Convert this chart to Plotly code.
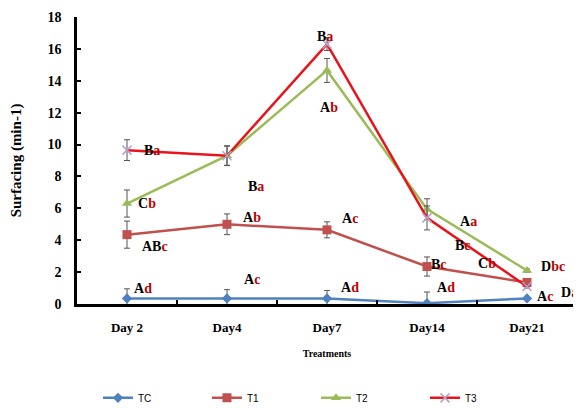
import plotly.graph_objects as go

days = ["Day 2", "Day4", "Day7", "Day14", "Day21"]
tc = [0.35, 0.35, 0.35, 0.05, 0.35]
tc_err = [0.6, 0.55, 0.5, 0.7, 0.05]
t1 = [4.35, 5.0, 4.65, 2.35, 1.35]
t1_err = [0.85, 0.65, 0.5, 0.6, 0.1]
t2 = [6.3, 9.3, 14.65, 5.95, 2.1]
t2_err = [0.85, 0.6, 0.75, 0.65, 0.1]
t3 = [9.65, 9.3, 16.3, 5.4, 1.1]
t3_err = [0.65, 0.62, 0.4, 0.75, 0.1]

# significance labels: (x position in category units, y value, capital, lowercase)
lab_x = [0.25, 0.2, 0.28, 0.16, 1.29, 1.25, 1.25, 1.98, 2.02, 2.23, 2.23, 3.41, 3.36, 3.12, 3.6, 3.19, 4.26, 4.42, 4.18]
lab_y = [9.65, 6.3, 3.6, 1.0, 7.4, 5.4, 1.55, 16.8, 12.3, 5.35, 1.06, 5.2, 3.7, 2.45, 2.55, 1.06, 2.35, 0.75, 0.45]
lab_cap = ["B", "C", "AB", "A", "B", "A", "A", "B", "A", "A", "A", "A", "B", "B", "C", "A", "D", "D", "A"]
lab_low = ["a", "b", "c", "d", "a", "b", "c", "a", "b", "c", "d", "a", "c", "c", "b", "d", "bc", "a", "c"]

fig = go.Figure()

def add(name, vals, errs, color, mcolor, symbol, msize):
    fig.add_trace(go.Scatter(
        x=days, y=vals, name=name, mode="lines+markers",
        line=dict(color=color, width=2.5),
        marker=dict(symbol=symbol, size=msize, color=mcolor,
                    line=dict(width=1.5 if symbol == "x-thin" else 0, color=mcolor)),
        error_y=dict(type="data", array=errs, visible=True, color="#555555",
                     thickness=1, width=3),
    ))

add("TC", tc, tc_err, "#4F81BD", "#4F81BD", "diamond", 8)
add("T1", t1, t1_err, "#C0504D", "#C0504D", "square", 9)
add("T2", t2, t2_err, "#9BBB59", "#9BBB59", "triangle-up", 9)
add("T3", t3, t3_err, "#E8141B", "#B8A0C8", "x-thin", 9)

for x, y, c, l in zip(lab_x, lab_y, lab_cap, lab_low):
    fig.add_annotation(
        x=x, y=y, xref="x", yref="y", showarrow=False,
        text=f"<b>{c}<span style='color:#C00000'>{l}</span></b>",
        font=dict(family="Liberation Serif", size=14, color="black"),
    )

fig.update_layout(
    width=573, height=400,
    margin=dict(l=69, r=4, t=9, b=104, autoexpand=False),
    plot_bgcolor="white", paper_bgcolor="white",
    showlegend=True,
    legend=dict(orientation="h", x=0.042, y=-0.327, xanchor="left", yanchor="middle",
                font=dict(family="Liberation Sans", size=10, color="black"),
                entrywidth=64, entrywidthmode="pixels", itemwidth=30),
)
fig.update_xaxes(
    type="category", range=[-0.5, 4.5],
    showline=True, linecolor="black", linewidth=2.5,
    ticks="inside", tickson="boundaries", ticklen=4, tickcolor="black", tickwidth=2,
    tickfont=dict(family="Liberation Serif", size=13, color="black", weight="bold"),
    ticklabelstandoff=10,
    showgrid=False,
    title=dict(text="<b>Treatments</b>", font=dict(family="Liberation Serif", size=10, color="black"), standoff=16),
)
fig.update_yaxes(
    range=[0, 18], dtick=2,
    showline=True, linecolor="black", linewidth=2.5,
    ticks="inside", ticklen=4, tickcolor="black", tickwidth=2,
    tickfont=dict(family="Liberation Serif", size=14, color="black", weight="bold"),
    ticklabelstandoff=10,
    showgrid=False, zeroline=False,
    title=dict(text="<b>Surfacing (min-1)</b>", font=dict(family="Liberation Serif", size=15, color="black"), standoff=24),
)

fig.write_html("out.html")
